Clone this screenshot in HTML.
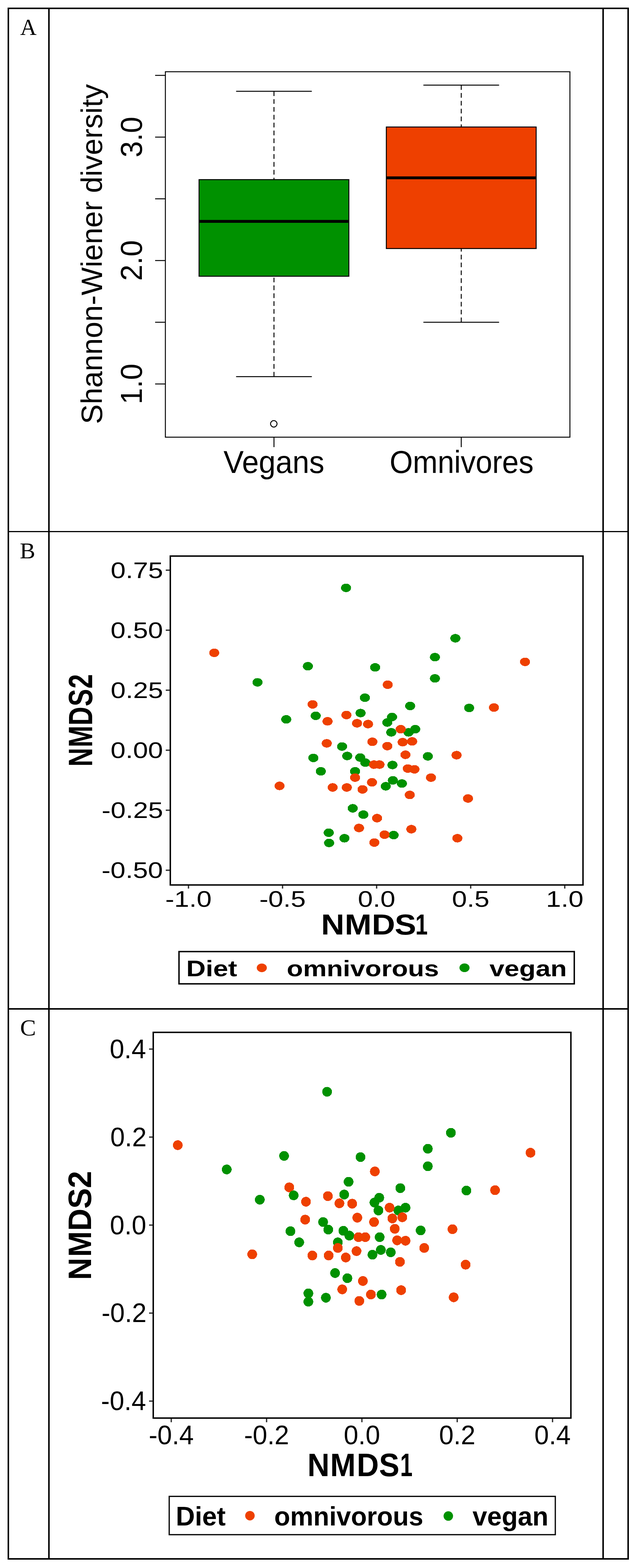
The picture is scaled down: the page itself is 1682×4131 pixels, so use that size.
<!DOCTYPE html>
<html lang="en"><head><meta charset="utf-8"><title>Figure: Shannon diversity and NMDS</title>
<style>
html,body{margin:0;padding:0;background:#fff;}
body{width:1682px;height:4131px;position:relative;overflow:hidden;}
svg{position:absolute;left:0;top:0;display:block;}
text{white-space:pre;}
</style></head><body>
<svg width="1682" height="4131" viewBox="0 0 1682 4131">
<g fill="#000">
<rect x="20" y="20" width="1638" height="4" /><rect x="20" y="4105" width="1638" height="4" />
<rect x="20" y="20" width="4" height="4089" /><rect x="1654" y="20" width="4" height="4089" />
<rect x="127" y="20" width="4" height="4089" /><rect x="1588" y="20" width="4" height="4089" />
<rect x="20" y="1399" width="1638" height="3" /><rect x="20" y="2656" width="1638" height="4" />
</g>
<text transform="translate(53.2,92) scale(0.9866,1)" font-size="60.76" font-family='"Liberation Serif", "Times New Roman", serif' font-weight="normal" fill="#000">A</text>
<text transform="translate(52.29,1471) scale(1.0154,1)" font-size="60.09" font-family='"Liberation Serif", "Times New Roman", serif' font-weight="normal" fill="#000">B</text>
<text transform="translate(53.06,2728.4) scale(1.0330,1)" font-size="60.8" font-family='"Liberation Serif", "Times New Roman", serif' font-weight="normal" fill="#000">C</text>
<g stroke="#000" stroke-width="2.5" fill="none">
<rect x="436" y="189" width="1066.5" height="962.8"/>
<line x1="409" x2="436" y1="1011.6" y2="1011.6"/>
<line x1="409" x2="436" y1="849" y2="849"/>
<line x1="409" x2="436" y1="686.4" y2="686.4"/>
<line x1="409" x2="436" y1="523.8" y2="523.8"/>
<line x1="409" x2="436" y1="361.2" y2="361.2"/>
<line x1="409" x2="436" y1="198.6" y2="198.6"/>
<line x1="722.28" x2="722.28" y1="1151.8" y2="1178"/>
<line x1="1216.03" x2="1216.03" y1="1151.8" y2="1178"/>
</g>
<line x1="722.28" x2="722.28" y1="240.5" y2="473.2" stroke="#000" stroke-width="2.5" stroke-dasharray="12.4 8.3"/><line x1="722.28" x2="722.28" y1="992.2" y2="727.8" stroke="#000" stroke-width="2.5" stroke-dasharray="12.4 8.3"/><line x1="623.53" x2="821.03" y1="240.5" y2="240.5" stroke="#000" stroke-width="2.5" stroke-linecap="round"/><line x1="623.53" x2="821.03" y1="992.2" y2="992.2" stroke="#000" stroke-width="2.5" stroke-linecap="round"/><rect x="524.78" y="473.2" width="395" height="254.6" fill="#009100" stroke="#000" stroke-width="2.5"/><line x1="524.78" x2="919.78" y1="583.2" y2="583.2" stroke="#000" stroke-width="7.5"/>
<line x1="1216.03" x2="1216.03" y1="224.3" y2="334.6" stroke="#000" stroke-width="2.5" stroke-dasharray="12.4 8.3"/><line x1="1216.03" x2="1216.03" y1="849" y2="654.8" stroke="#000" stroke-width="2.5" stroke-dasharray="12.4 8.3"/><line x1="1117.28" x2="1314.78" y1="224.3" y2="224.3" stroke="#000" stroke-width="2.5" stroke-linecap="round"/><line x1="1117.28" x2="1314.78" y1="849" y2="849" stroke="#000" stroke-width="2.5" stroke-linecap="round"/><rect x="1018.53" y="334.6" width="395" height="320.2" fill="#EE4000" stroke="#000" stroke-width="2.5"/><line x1="1018.53" x2="1413.53" y1="468.4" y2="468.4" stroke="#000" stroke-width="7.5"/>
<circle cx="721.8" cy="1116.6" r="8.6" fill="none" stroke="#000" stroke-width="2.5"/>
<text transform="translate(373.9,414.87) rotate(-90) scale(0.964,1)" font-size="80.1" font-family='"Liberation Sans", Arial, sans-serif'>3.0</text>
<text transform="translate(373.9,740.07) rotate(-90) scale(0.964,1)" font-size="80.1" font-family='"Liberation Sans", Arial, sans-serif'>2.0</text>
<text transform="translate(373.9,1065.27) rotate(-90) scale(0.964,1)" font-size="80.1" font-family='"Liberation Sans", Arial, sans-serif'>1.0</text>
<text transform="translate(268.8,1117.3) rotate(-90) scale(1.0028,1)" font-size="78.04" font-family='"Liberation Sans", Arial, sans-serif' font-weight="normal" fill="#000">Shannon-Wiener diversity</text>
<text transform="translate(589.18,1245.8) scale(0.9658,1)" font-size="82.56" font-family='"Liberation Sans", Arial, sans-serif' font-weight="normal" fill="#000">Vegans</text>
<text transform="translate(1027.13,1245.8) scale(0.9521,1)" font-size="82.5" font-family='"Liberation Sans", Arial, sans-serif' font-weight="normal" fill="#000">Omnivores</text>
<g>
<rect x="449" y="1465" width="1088" height="866.5" fill="none" stroke="#000" stroke-width="3.8"/>
<line x1="437" x2="447" y1="1502.2" y2="1502.2" stroke="#333" stroke-width="3.5"/>
<line x1="437" x2="447" y1="1660.3" y2="1660.3" stroke="#333" stroke-width="3.5"/>
<line x1="437" x2="447" y1="1818.4" y2="1818.4" stroke="#333" stroke-width="3.5"/>
<line x1="437" x2="447" y1="1976.5" y2="1976.5" stroke="#333" stroke-width="3.5"/>
<line x1="437" x2="447" y1="2134.6" y2="2134.6" stroke="#333" stroke-width="3.5"/>
<line x1="437" x2="447" y1="2292.7" y2="2292.7" stroke="#333" stroke-width="3.5"/>
<line x1="496.9" x2="496.9" y1="2333" y2="2341" stroke="#333" stroke-width="3.5"/>
<line x1="744.9" x2="744.9" y1="2333" y2="2341" stroke="#333" stroke-width="3.5"/>
<line x1="992.9" x2="992.9" y1="2333" y2="2341" stroke="#333" stroke-width="3.5"/>
<line x1="1240.9" x2="1240.9" y1="2333" y2="2341" stroke="#333" stroke-width="3.5"/>
<line x1="1488.9" x2="1488.9" y1="2333" y2="2341" stroke="#333" stroke-width="3.5"/>
</g>
<text transform="translate(291.73,1522.7) scale(1.192,1)" font-size="59.6" font-family='"Liberation Sans", Arial, sans-serif'>0.75</text>
<text transform="translate(291.45,1680.8) scale(1.192,1)" font-size="59.6" font-family='"Liberation Sans", Arial, sans-serif'>0.50</text>
<text transform="translate(291.73,1838.9) scale(1.192,1)" font-size="59.6" font-family='"Liberation Sans", Arial, sans-serif'>0.25</text>
<text transform="translate(291.45,1997) scale(1.192,1)" font-size="59.6" font-family='"Liberation Sans", Arial, sans-serif'>0.00</text>
<text transform="translate(268.01,2155.1) scale(1.192,1)" font-size="59.6" font-family='"Liberation Sans", Arial, sans-serif'>-0.25</text>
<text transform="translate(267.72,2313.2) scale(1.192,1)" font-size="59.6" font-family='"Liberation Sans", Arial, sans-serif'>-0.50</text>
<text transform="translate(435.69,2389.4) scale(1.192,1)" font-size="59.6" font-family='"Liberation Sans", Arial, sans-serif'>-1.0</text>
<text transform="translate(683.69,2389.4) scale(1.192,1)" font-size="59.6" font-family='"Liberation Sans", Arial, sans-serif'>-0.5</text>
<text transform="translate(943.52,2389.4) scale(1.192,1)" font-size="59.6" font-family='"Liberation Sans", Arial, sans-serif'>0.0</text>
<text transform="translate(1191.52,2389.4) scale(1.192,1)" font-size="59.6" font-family='"Liberation Sans", Arial, sans-serif'>0.5</text>
<text transform="translate(1439.52,2389.4) scale(1.192,1)" font-size="59.6" font-family='"Liberation Sans", Arial, sans-serif'>1.0</text>
<text transform="translate(852,2461.7) scale(1.1306,1)" x="-4.96 50.14 113.38 166.68 214.97" font-size="75.21" font-family='"Liberation Sans", Arial, sans-serif' font-weight="bold">NMDS<tspan textLength="28.84" lengthAdjust="spacingAndGlyphs">1</tspan></text>
<text transform="translate(242.5,2015) rotate(-90) scale(0.7689,1)" x="-5.87 60.06 135.1 200.47 261.37" font-size="88.97" font-family='"Liberation Sans", Arial, sans-serif' font-weight="bold">NMDS2</text>
<ellipse cx="912.26" cy="1548.77" rx="13.3" ry="11.2" fill="#009100" shape-rendering="crispEdges"/><ellipse cx="1200.58" cy="1681.52" rx="13.3" ry="11.2" fill="#009100" shape-rendering="crispEdges"/><ellipse cx="1146.65" cy="1731.31" rx="13.3" ry="11.2" fill="#009100" shape-rendering="crispEdges"/><ellipse cx="811.66" cy="1755.16" rx="13.3" ry="11.2" fill="#009100" shape-rendering="crispEdges"/><ellipse cx="989.01" cy="1758.27" rx="13.3" ry="11.2" fill="#009100" shape-rendering="crispEdges"/><ellipse cx="1146.65" cy="1787.31" rx="13.3" ry="11.2" fill="#009100" shape-rendering="crispEdges"/><ellipse cx="678.91" cy="1797.68" rx="13.3" ry="11.2" fill="#009100" shape-rendering="crispEdges"/><ellipse cx="962.04" cy="1838.13" rx="13.3" ry="11.2" fill="#009100" shape-rendering="crispEdges"/><ellipse cx="1081.31" cy="1859.91" rx="13.3" ry="11.2" fill="#009100" shape-rendering="crispEdges"/><ellipse cx="1236.88" cy="1865.09" rx="13.3" ry="11.2" fill="#009100" shape-rendering="crispEdges"/><ellipse cx="832.4" cy="1885.84" rx="13.3" ry="11.2" fill="#009100" shape-rendering="crispEdges"/><ellipse cx="950.63" cy="1878.58" rx="13.3" ry="11.2" fill="#009100" shape-rendering="crispEdges"/><ellipse cx="754.62" cy="1895.17" rx="13.3" ry="11.2" fill="#009100" shape-rendering="crispEdges"/><ellipse cx="1033.6" cy="1888.95" rx="13.3" ry="11.2" fill="#009100" shape-rendering="crispEdges"/><ellipse cx="1021.16" cy="1903.47" rx="13.3" ry="11.2" fill="#009100" shape-rendering="crispEdges"/><ellipse cx="1094.79" cy="1921.1" rx="13.3" ry="11.2" fill="#009100" shape-rendering="crispEdges"/><ellipse cx="1077.16" cy="1929.4" rx="13.3" ry="11.2" fill="#009100" shape-rendering="crispEdges"/><ellipse cx="1031.53" cy="1929.4" rx="13.3" ry="11.2" fill="#009100" shape-rendering="crispEdges"/><ellipse cx="901.89" cy="1966.73" rx="13.3" ry="11.2" fill="#009100" shape-rendering="crispEdges"/><ellipse cx="915.37" cy="1991.62" rx="13.3" ry="11.2" fill="#009100" shape-rendering="crispEdges"/><ellipse cx="1127.98" cy="1992.66" rx="13.3" ry="11.2" fill="#009100" shape-rendering="crispEdges"/><ellipse cx="826.18" cy="1996.81" rx="13.3" ry="11.2" fill="#009100" shape-rendering="crispEdges"/><ellipse cx="949.6" cy="1995.77" rx="13.3" ry="11.2" fill="#009100" shape-rendering="crispEdges"/><ellipse cx="963.08" cy="2009.26" rx="13.3" ry="11.2" fill="#009100" shape-rendering="crispEdges"/><ellipse cx="1034.64" cy="2015.48" rx="13.3" ry="11.2" fill="#009100" shape-rendering="crispEdges"/><ellipse cx="845.88" cy="2032.07" rx="13.3" ry="11.2" fill="#009100" shape-rendering="crispEdges"/><ellipse cx="936.11" cy="2032.07" rx="13.3" ry="11.2" fill="#009100" shape-rendering="crispEdges"/><ellipse cx="1035.68" cy="2055.93" rx="13.3" ry="11.2" fill="#009100" shape-rendering="crispEdges"/><ellipse cx="1059.53" cy="2064.22" rx="13.3" ry="11.2" fill="#009100" shape-rendering="crispEdges"/><ellipse cx="1017.01" cy="2071.48" rx="13.3" ry="11.2" fill="#009100" shape-rendering="crispEdges"/><ellipse cx="929.89" cy="2129.56" rx="13.3" ry="11.2" fill="#009100" shape-rendering="crispEdges"/><ellipse cx="957.89" cy="2146.16" rx="13.3" ry="11.2" fill="#009100" shape-rendering="crispEdges"/><ellipse cx="866.63" cy="2193.86" rx="13.3" ry="11.2" fill="#009100" shape-rendering="crispEdges"/><ellipse cx="908.11" cy="2208.38" rx="13.3" ry="11.2" fill="#009100" shape-rendering="crispEdges"/><ellipse cx="1037.75" cy="2200.09" rx="13.3" ry="11.2" fill="#009100" shape-rendering="crispEdges"/><ellipse cx="867.66" cy="2220.83" rx="13.3" ry="11.2" fill="#009100" shape-rendering="crispEdges"/><ellipse cx="564.82" cy="1719.9" rx="13.3" ry="11.2" fill="#EE4000" shape-rendering="crispEdges"/><ellipse cx="1384.15" cy="1743.75" rx="13.3" ry="11.2" fill="#EE4000" shape-rendering="crispEdges"/><ellipse cx="1022.2" cy="1803.9" rx="13.3" ry="11.2" fill="#EE4000" shape-rendering="crispEdges"/><ellipse cx="824.1" cy="1855.76" rx="13.3" ry="11.2" fill="#EE4000" shape-rendering="crispEdges"/><ellipse cx="1302.22" cy="1864.06" rx="13.3" ry="11.2" fill="#EE4000" shape-rendering="crispEdges"/><ellipse cx="913.3" cy="1883.76" rx="13.3" ry="11.2" fill="#EE4000" shape-rendering="crispEdges"/><ellipse cx="863.51" cy="1900.36" rx="13.3" ry="11.2" fill="#EE4000" shape-rendering="crispEdges"/><ellipse cx="941.3" cy="1905.54" rx="13.3" ry="11.2" fill="#EE4000" shape-rendering="crispEdges"/><ellipse cx="970.34" cy="1907.62" rx="13.3" ry="11.2" fill="#EE4000" shape-rendering="crispEdges"/><ellipse cx="1056.42" cy="1921.1" rx="13.3" ry="11.2" fill="#EE4000" shape-rendering="crispEdges"/><ellipse cx="861.44" cy="1958.44" rx="13.3" ry="11.2" fill="#EE4000" shape-rendering="crispEdges"/><ellipse cx="981.75" cy="1954.29" rx="13.3" ry="11.2" fill="#EE4000" shape-rendering="crispEdges"/><ellipse cx="1061.61" cy="1955.32" rx="13.3" ry="11.2" fill="#EE4000" shape-rendering="crispEdges"/><ellipse cx="1086.5" cy="1953.25" rx="13.3" ry="11.2" fill="#EE4000" shape-rendering="crispEdges"/><ellipse cx="1021.16" cy="1965.7" rx="13.3" ry="11.2" fill="#EE4000" shape-rendering="crispEdges"/><ellipse cx="1068.87" cy="1988.51" rx="13.3" ry="11.2" fill="#EE4000" shape-rendering="crispEdges"/><ellipse cx="1203.69" cy="1989.55" rx="13.3" ry="11.2" fill="#EE4000" shape-rendering="crispEdges"/><ellipse cx="985.9" cy="2014.44" rx="13.3" ry="11.2" fill="#EE4000" shape-rendering="crispEdges"/><ellipse cx="1000.42" cy="2014.44" rx="13.3" ry="11.2" fill="#EE4000" shape-rendering="crispEdges"/><ellipse cx="1075.09" cy="2024.81" rx="13.3" ry="11.2" fill="#EE4000" shape-rendering="crispEdges"/><ellipse cx="1092.72" cy="2026.89" rx="13.3" ry="11.2" fill="#EE4000" shape-rendering="crispEdges"/><ellipse cx="936.11" cy="2048.67" rx="13.3" ry="11.2" fill="#EE4000" shape-rendering="crispEdges"/><ellipse cx="1136.28" cy="2048.67" rx="13.3" ry="11.2" fill="#EE4000" shape-rendering="crispEdges"/><ellipse cx="980.71" cy="2061.11" rx="13.3" ry="11.2" fill="#EE4000" shape-rendering="crispEdges"/><ellipse cx="736.98" cy="2070.45" rx="13.3" ry="11.2" fill="#EE4000" shape-rendering="crispEdges"/><ellipse cx="877" cy="2074.59" rx="13.3" ry="11.2" fill="#EE4000" shape-rendering="crispEdges"/><ellipse cx="914.33" cy="2074.59" rx="13.3" ry="11.2" fill="#EE4000" shape-rendering="crispEdges"/><ellipse cx="955.82" cy="2079.78" rx="13.3" ry="11.2" fill="#EE4000" shape-rendering="crispEdges"/><ellipse cx="1080.27" cy="2094.3" rx="13.3" ry="11.2" fill="#EE4000" shape-rendering="crispEdges"/><ellipse cx="1233.77" cy="2103.63" rx="13.3" ry="11.2" fill="#EE4000" shape-rendering="crispEdges"/><ellipse cx="994.19" cy="2155.49" rx="13.3" ry="11.2" fill="#EE4000" shape-rendering="crispEdges"/><ellipse cx="946.48" cy="2181.42" rx="13.3" ry="11.2" fill="#EE4000" shape-rendering="crispEdges"/><ellipse cx="1084.42" cy="2184.53" rx="13.3" ry="11.2" fill="#EE4000" shape-rendering="crispEdges"/><ellipse cx="1013.9" cy="2199.05" rx="13.3" ry="11.2" fill="#EE4000" shape-rendering="crispEdges"/><ellipse cx="1205.77" cy="2208.38" rx="13.3" ry="11.2" fill="#EE4000" shape-rendering="crispEdges"/><ellipse cx="986.93" cy="2219.79" rx="13.3" ry="11.2" fill="#EE4000" shape-rendering="crispEdges"/>
<rect x="471.9" y="2507" width="1042.1" height="85" fill="none" stroke="#000" stroke-width="3.7"/>
<text transform="translate(491.11,2571.5) scale(1.1926,1)" font-size="59.53" font-family='"Liberation Sans", Arial, sans-serif' font-weight="bold" fill="#000">Diet</text>
<ellipse cx="690.2" cy="2549.8" rx="13.3" ry="11.4" fill="#EE4000"/>
<text transform="translate(756.1,2571.5) scale(1.1945,1)" font-size="58.7" font-family='"Liberation Sans", Arial, sans-serif' font-weight="bold" fill="#000">omnivorous</text>
<ellipse cx="1224.6" cy="2549.6" rx="13.3" ry="11.4" fill="#009100"/>
<text transform="translate(1290.62,2571.5) scale(1.2017,1)" font-size="58.7" font-family='"Liberation Sans", Arial, sans-serif' font-weight="bold" fill="#000">vegan</text>
<rect x="404" y="2719.8" width="1101.1" height="1016.2" fill="none" stroke="#000" stroke-width="3.8"/>
<line x1="393" x2="402" y1="2763.9" y2="2763.9" stroke="#333" stroke-width="3.5"/>
<line x1="1456.7" x2="1456.7" y1="3738" y2="3747" stroke="#333" stroke-width="3.5"/>
<line x1="393" x2="402" y1="2995.75" y2="2995.75" stroke="#333" stroke-width="3.5"/>
<line x1="1205.4" x2="1205.4" y1="3738" y2="3747" stroke="#333" stroke-width="3.5"/>
<line x1="393" x2="402" y1="3227.6" y2="3227.6" stroke="#333" stroke-width="3.5"/>
<line x1="954.1" x2="954.1" y1="3738" y2="3747" stroke="#333" stroke-width="3.5"/>
<line x1="393" x2="402" y1="3459.45" y2="3459.45" stroke="#333" stroke-width="3.5"/>
<line x1="702.8" x2="702.8" y1="3738" y2="3747" stroke="#333" stroke-width="3.5"/>
<line x1="393" x2="402" y1="3691.3" y2="3691.3" stroke="#333" stroke-width="3.5"/>
<line x1="451.5" x2="451.5" y1="3738" y2="3747" stroke="#333" stroke-width="3.5"/>
<text transform="translate(289.29,2787.84) scale(0.99,1)" font-size="69.6" font-family='"Liberation Sans", Arial, sans-serif'>0.4</text>
<text transform="translate(1408.81,3805.2) scale(0.99,1)" font-size="69.6" font-family='"Liberation Sans", Arial, sans-serif'>0.4</text>
<text transform="translate(290.67,3019.69) scale(0.99,1)" font-size="69.6" font-family='"Liberation Sans", Arial, sans-serif'>0.2</text>
<text transform="translate(1157.51,3805.2) scale(0.99,1)" font-size="69.6" font-family='"Liberation Sans", Arial, sans-serif'>0.2</text>
<text transform="translate(289.84,3251.54) scale(0.99,1)" font-size="69.6" font-family='"Liberation Sans", Arial, sans-serif'>0.0</text>
<text transform="translate(906.21,3805.2) scale(0.99,1)" font-size="69.6" font-family='"Liberation Sans", Arial, sans-serif'>0.0</text>
<text transform="translate(267.65,3483.39) scale(0.99,1)" font-size="69.6" font-family='"Liberation Sans", Arial, sans-serif'>-0.2</text>
<text transform="translate(643.43,3805.2) scale(0.99,1)" font-size="69.6" font-family='"Liberation Sans", Arial, sans-serif'>-0.2</text>
<text transform="translate(266.28,3715.24) scale(0.99,1)" font-size="69.6" font-family='"Liberation Sans", Arial, sans-serif'>-0.4</text>
<text transform="translate(392.13,3805.2) scale(0.99,1)" font-size="69.6" font-family='"Liberation Sans", Arial, sans-serif'>-0.4</text>
<text transform="translate(815.7,3888.8) scale(0.9366,1)" x="-5.68 58.49 133.23 195.91 255.56" font-size="86.1" font-family='"Liberation Sans", Arial, sans-serif' font-weight="bold">NMDS<tspan textLength="34.81" lengthAdjust="spacingAndGlyphs">1</tspan></text>
<text transform="translate(240.3,3367) rotate(-90) scale(0.9476,1)" x="-5.67 58.49 130.99 192.55 249.93" font-size="85.96" font-family='"Liberation Sans", Arial, sans-serif' font-weight="bold">NMDS2</text>
<circle cx="862.3" cy="2876.33" r="12.85" fill="#009100" shape-rendering="crispEdges"/><circle cx="1188.71" cy="2984.43" r="12.85" fill="#009100" shape-rendering="crispEdges"/><circle cx="1127.83" cy="3026.42" r="12.85" fill="#009100" shape-rendering="crispEdges"/><circle cx="748.95" cy="3045.31" r="12.85" fill="#009100" shape-rendering="crispEdges"/><circle cx="950.46" cy="3048.46" r="12.85" fill="#009100" shape-rendering="crispEdges"/><circle cx="1127.83" cy="3072.6" r="12.85" fill="#009100" shape-rendering="crispEdges"/><circle cx="597.82" cy="3080.99" r="12.85" fill="#009100" shape-rendering="crispEdges"/><circle cx="918.97" cy="3113.53" r="12.85" fill="#009100" shape-rendering="crispEdges"/><circle cx="1055.41" cy="3130.32" r="12.85" fill="#009100" shape-rendering="crispEdges"/><circle cx="1229.64" cy="3136.62" r="12.85" fill="#009100" shape-rendering="crispEdges"/><circle cx="907.43" cy="3147.11" r="12.85" fill="#009100" shape-rendering="crispEdges"/><circle cx="684.93" cy="3160.76" r="12.85" fill="#009100" shape-rendering="crispEdges"/><circle cx="999.79" cy="3155.51" r="12.85" fill="#009100" shape-rendering="crispEdges"/><circle cx="987.19" cy="3168.1" r="12.85" fill="#009100" shape-rendering="crispEdges"/><circle cx="1069.06" cy="3181.75" r="12.85" fill="#009100" shape-rendering="crispEdges"/><circle cx="1050.17" cy="3189.09" r="12.85" fill="#009100" shape-rendering="crispEdges"/><circle cx="997.69" cy="3189.09" r="12.85" fill="#009100" shape-rendering="crispEdges"/><circle cx="851.8" cy="3219.53" r="12.85" fill="#009100" shape-rendering="crispEdges"/><circle cx="865.45" cy="3239.47" r="12.85" fill="#009100" shape-rendering="crispEdges"/><circle cx="1108.94" cy="3241.57" r="12.85" fill="#009100" shape-rendering="crispEdges"/><circle cx="765.74" cy="3243.67" r="12.85" fill="#009100" shape-rendering="crispEdges"/><circle cx="905.33" cy="3242.62" r="12.85" fill="#009100" shape-rendering="crispEdges"/><circle cx="921.07" cy="3255.21" r="12.85" fill="#009100" shape-rendering="crispEdges"/><circle cx="1000.84" cy="3259.41" r="12.85" fill="#009100" shape-rendering="crispEdges"/><circle cx="788.83" cy="3273.06" r="12.85" fill="#009100" shape-rendering="crispEdges"/><circle cx="890.64" cy="3273.06" r="12.85" fill="#009100" shape-rendering="crispEdges"/><circle cx="1003.99" cy="3293" r="12.85" fill="#009100" shape-rendering="crispEdges"/><circle cx="1030.22" cy="3299.3" r="12.85" fill="#009100" shape-rendering="crispEdges"/><circle cx="981.95" cy="3305.59" r="12.85" fill="#009100" shape-rendering="crispEdges"/><circle cx="883.29" cy="3353.87" r="12.85" fill="#009100" shape-rendering="crispEdges"/><circle cx="915.83" cy="3367.52" r="12.85" fill="#009100" shape-rendering="crispEdges"/><circle cx="812.97" cy="3407.4" r="12.85" fill="#009100" shape-rendering="crispEdges"/><circle cx="859.15" cy="3418.94" r="12.85" fill="#009100" shape-rendering="crispEdges"/><circle cx="1006.09" cy="3410.55" r="12.85" fill="#009100" shape-rendering="crispEdges"/><circle cx="812.97" cy="3429.44" r="12.85" fill="#009100" shape-rendering="crispEdges"/><circle cx="468.72" cy="3016.97" r="12.85" fill="#EE4000" shape-rendering="crispEdges"/><circle cx="1398.61" cy="3036.91" r="12.85" fill="#EE4000" shape-rendering="crispEdges"/><circle cx="988.24" cy="3086.24" r="12.85" fill="#EE4000" shape-rendering="crispEdges"/><circle cx="762.59" cy="3128.22" r="12.85" fill="#EE4000" shape-rendering="crispEdges"/><circle cx="1305.2" cy="3135.57" r="12.85" fill="#EE4000" shape-rendering="crispEdges"/><circle cx="864.4" cy="3151.31" r="12.85" fill="#EE4000" shape-rendering="crispEdges"/><circle cx="806.67" cy="3166" r="12.85" fill="#EE4000" shape-rendering="crispEdges"/><circle cx="894.83" cy="3170.2" r="12.85" fill="#EE4000" shape-rendering="crispEdges"/><circle cx="928.42" cy="3171.25" r="12.85" fill="#EE4000" shape-rendering="crispEdges"/><circle cx="1027.08" cy="3181.75" r="12.85" fill="#EE4000" shape-rendering="crispEdges"/><circle cx="804.57" cy="3213.23" r="12.85" fill="#EE4000" shape-rendering="crispEdges"/><circle cx="942.06" cy="3207.99" r="12.85" fill="#EE4000" shape-rendering="crispEdges"/><circle cx="1034.42" cy="3210.08" r="12.85" fill="#EE4000" shape-rendering="crispEdges"/><circle cx="1060.66" cy="3206.94" r="12.85" fill="#EE4000" shape-rendering="crispEdges"/><circle cx="986.14" cy="3219.53" r="12.85" fill="#EE4000" shape-rendering="crispEdges"/><circle cx="1040.72" cy="3237.37" r="12.85" fill="#EE4000" shape-rendering="crispEdges"/><circle cx="1192.9" cy="3238.42" r="12.85" fill="#EE4000" shape-rendering="crispEdges"/><circle cx="945.21" cy="3259.41" r="12.85" fill="#EE4000" shape-rendering="crispEdges"/><circle cx="963.05" cy="3259.41" r="12.85" fill="#EE4000" shape-rendering="crispEdges"/><circle cx="1047.02" cy="3267.81" r="12.85" fill="#EE4000" shape-rendering="crispEdges"/><circle cx="1069.06" cy="3268.86" r="12.85" fill="#EE4000" shape-rendering="crispEdges"/><circle cx="890.64" cy="3287.75" r="12.85" fill="#EE4000" shape-rendering="crispEdges"/><circle cx="1118.39" cy="3287.75" r="12.85" fill="#EE4000" shape-rendering="crispEdges"/><circle cx="939.96" cy="3296.15" r="12.85" fill="#EE4000" shape-rendering="crispEdges"/><circle cx="664.99" cy="3304.54" r="12.85" fill="#EE4000" shape-rendering="crispEdges"/><circle cx="823.47" cy="3307.69" r="12.85" fill="#EE4000" shape-rendering="crispEdges"/><circle cx="866.5" cy="3307.69" r="12.85" fill="#EE4000" shape-rendering="crispEdges"/><circle cx="911.63" cy="3312.94" r="12.85" fill="#EE4000" shape-rendering="crispEdges"/><circle cx="1054.36" cy="3324.48" r="12.85" fill="#EE4000" shape-rendering="crispEdges"/><circle cx="1227.54" cy="3331.83" r="12.85" fill="#EE4000" shape-rendering="crispEdges"/><circle cx="956.76" cy="3374.86" r="12.85" fill="#EE4000" shape-rendering="crispEdges"/><circle cx="902.18" cy="3396.9" r="12.85" fill="#EE4000" shape-rendering="crispEdges"/><circle cx="1057.51" cy="3399" r="12.85" fill="#EE4000" shape-rendering="crispEdges"/><circle cx="977.75" cy="3410.55" r="12.85" fill="#EE4000" shape-rendering="crispEdges"/><circle cx="1196.05" cy="3417.89" r="12.85" fill="#EE4000" shape-rendering="crispEdges"/><circle cx="947.31" cy="3427.34" r="12.85" fill="#EE4000" shape-rendering="crispEdges"/><circle cx="774.14" cy="3149.21" r="12.85" fill="#009100" shape-rendering="crispEdges"/>
<rect x="446.1" y="3942.3" width="1017.9" height="100.9" fill="none" stroke="#000" stroke-width="3.2"/>
<text transform="translate(463.41,4019.3) scale(0.9817,1)" font-size="70.86" font-family='"Liberation Sans", Arial, sans-serif' font-weight="bold" fill="#000">Diet</text>
<circle cx="658.9" cy="3993.2" r="12.5" fill="#EE4000"/>
<text transform="translate(722.95,4019.3) scale(0.9812,1)" font-size="70" font-family='"Liberation Sans", Arial, sans-serif' font-weight="bold" fill="#000">omnivorous</text>
<circle cx="1181.9" cy="3994.1" r="12.5" fill="#009100"/>
<text transform="translate(1245.72,4019.3) scale(0.9885,1)" font-size="70" font-family='"Liberation Sans", Arial, sans-serif' font-weight="bold" fill="#000">vegan</text>
</svg>
</body></html>
